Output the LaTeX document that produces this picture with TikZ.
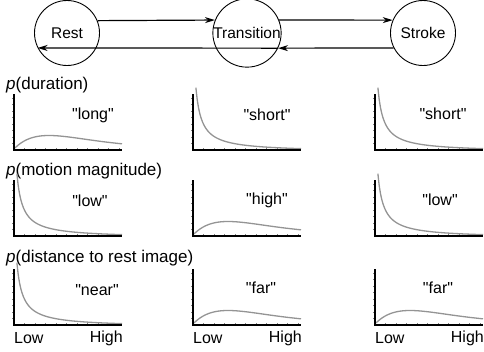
\documentclass[tikz,border=0pt]{standalone}
\usepackage{fontspec}
\setmainfont{Liberation Sans}[Ligatures=TeXOff]
\usetikzlibrary{arrows.meta}
\begin{document}
\begin{tikzpicture}[x=1pt,y=-1pt,
  state/.style={circle,draw,line width=0.9pt,minimum size=65pt,inner sep=0pt,font=\fontsize{15.5}{18}\selectfont},
  trans/.style={line width=1.2pt,-{Stealth[length=10pt,width=6pt]}},
  axisline/.style={line width=1.7pt,black},
  tick/.style={line width=0.4pt,gray},
  crv/.style={line width=1.3pt,color=black!42},
  lbl/.style={font=\fontsize{16}{19}\selectfont,inner sep=0pt},
  ttl/.style={font=\fontsize{17}{19}\selectfont,inner sep=0pt,anchor=west}]
\useasboundingbox (0,0) rectangle (484,351);
% states
\node[state] (rest) at (67,33) {Rest};
\node[state,minimum size=68pt] (tr) at (247,33) {Transition};
\node[state] (stroke) at (423,33) {Stroke};
\draw[trans] (rest.22) -- (tr.158);
\draw[trans] (tr.-26) -- (rest.-153);
\draw[trans] (tr.22) -- (stroke.157);
\draw[trans] (stroke.-153) -- (tr.-26);
% titles
\node[ttl] (t1) at (6,85) {\textit{p}(duration)};
\node[ttl] (t2) at (6,171) {\textit{p}(motion magnitude)};
\node[ttl] (t3) at (6,258) {\textit{p}(distance to rest image)};
% panels: x-origin / baseline / type (h=hump, d=decay)
\foreach \ox/\oy/\ty in {14/150/h,193/150/d,375/150/d,
                          14/236/d,193/236/h,375/236/d,
                          14/325/d,193/325/h,375/325/h}{
  \begin{scope}[shift={(\ox,\oy)}]
    \foreach \k in {1,...,8} \draw[tick] (0,-\k*6.5) -- (-1.8,-\k*6.5);
    \foreach \k in {1,...,10} \draw[tick] (\k*10.5,0) -- (\k*10.5,-1.8);
    \if\ty h
      \draw[crv] plot[domain=1:108,samples=60,smooth] (\x,{-(1+13.5*(\x/35)*exp(1-\x/35))});
    \else
      \draw[crv] plot[domain=2.9:108,samples=80,smooth] (\x,{-(373/(\x+2.9)-3+1)});
    \fi
    \draw[axisline] (0,-56) -- (0,0) -- (108,0);
  \end{scope}
}
% labels
\node[lbl] (l11) at (93,115) {"long"};
\node[lbl] (l12) at (267,115) {"short"};
\node[lbl] (l13) at (443,114) {"short"};
\node[lbl] (l21) at (90,201) {"low"};
\node[lbl] (l22) at (267,200) {"high"};
\node[lbl] (l23) at (440,200) {"low"};
\node[lbl] (l31) at (97,290) {"near"};
\node[lbl] (l32) at (261,288) {"far"};
\node[lbl] (l33) at (438,288) {"far"};
% axis end labels
\foreach \ox/\n in {14/a,193/b,375/c}{
  \node[lbl,anchor=west] (low\n) at (\ox,338) {Low};
  \node[lbl,anchor=east] (high\n) at (\ox+109,338) {High};
}
\end{tikzpicture}
\end{document}
